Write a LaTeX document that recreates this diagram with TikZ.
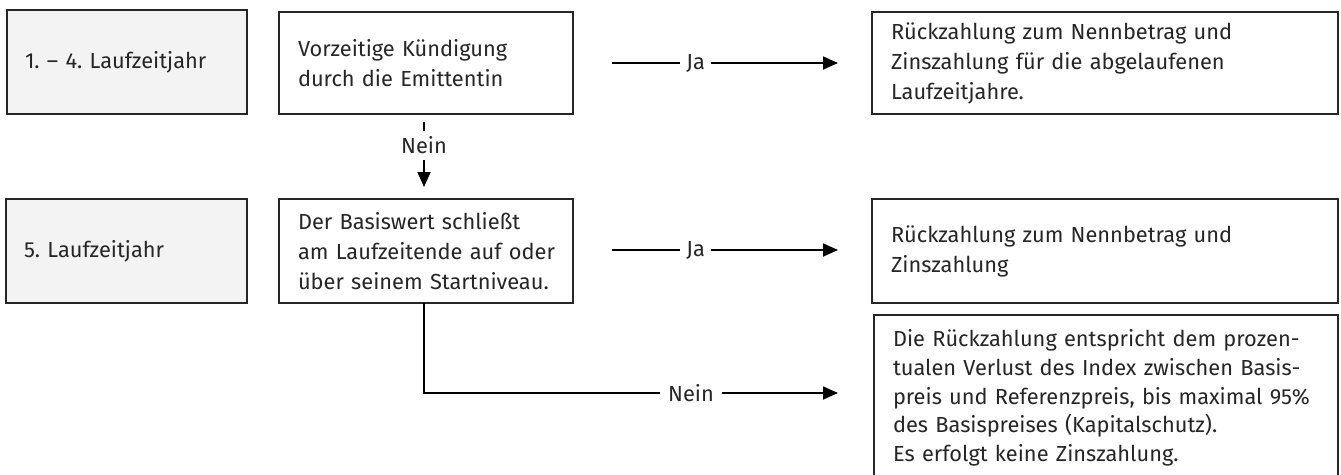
\documentclass[tikz,border=0pt]{standalone}
\usepackage{fontspec}
\setmainfont{Fira Sans}
\usetikzlibrary{arrows.meta}
\definecolor{boxgray}{HTML}{F3F3F3}
\definecolor{txt}{HTML}{262626}
\frenchspacing
\begin{document}
\begin{tikzpicture}[x=1pt,y=-1pt,
  every node/.style={text=txt,font=\fontsize{21.8}{30}\selectfont},
  box/.style={draw=black!85,line width=1.2pt,anchor=north west,align=left,inner ysep=0pt,outer sep=0pt},
  yearbox/.style={box,fill=boxgray},
  conn/.style={line width=1.8pt,-{Triangle[length=15pt,width=13pt]}},
  lbl/.style={fill=white,inner xsep=6pt,inner ysep=2pt}
]
\clip (0,0) rectangle (1341,474);
\fill[white] (0,0) rectangle (1341,474);

% row 1
\node[yearbox,minimum width=240pt,minimum height=104pt,text width=204pt,inner xsep=18pt] (y1) at (7,10) {\mbox{1. – 4. Laufzeitjahr}};
\node[box,minimum width=294pt,minimum height=102pt,text width=256pt,inner xsep=19pt] (q1) at (279,12) {\mbox{Vorzeitige Kündigung}\\\mbox{durch die Emittentin}};
\node[box,minimum width=466pt,minimum height=102pt,text width=428pt,inner xsep=19pt] (r1) at (872,12) {\mbox{Rückzahlung zum Nennbetrag und}\\\mbox{Zinszahlung für die abgelaufenen}\\\mbox{Laufzeitjahre.}};

% row 2
\node[yearbox,minimum width=241pt,minimum height=104pt,text width=205pt,inner xsep=18pt] (y2) at (6,199) {\mbox{5. Laufzeitjahr}};
\node[box,minimum width=294pt,minimum height=104pt,text width=256pt,inner xsep=19pt] (q2) at (279,199) {\mbox{Der Basiswert schließt}\\\mbox{am Laufzeitende auf oder}\\\mbox{über seinem Startniveau.}};
\node[box,minimum width=466pt,minimum height=104pt,text width=428pt,inner xsep=19pt] (r2) at (872,199) {\mbox{Rückzahlung zum Nennbetrag und}\\\mbox{Zinszahlung}};

% row 3
\node[box,minimum width=464pt,minimum height=166pt,text width=426pt,inner xsep=19pt,
  font=\fontsize{21.8}{28.6}\selectfont] (r3) at (874,315) {\mbox{Die Rückzahlung entspricht dem prozen-}\\\mbox{tualen Verlust des Index zwischen Basis-}\\\mbox{preis und Referenzpreis, bis maximal 95\%}\\\mbox{des Basispreises (Kapitalschutz).}\\\mbox{Es erfolgt keine Zinszahlung.}};

% connectors
\coordinate (j1s) at (612,63);
\coordinate (j1e) at (838,63);
\draw[conn] (j1s) -- node[lbl,pos=0.37] {Ja} (j1e);

\coordinate (j2s) at (612,250);
\coordinate (j2e) at (838,250);
\draw[conn] (j2s) -- node[lbl,pos=0.37] {Ja} (j2e);

\coordinate (n1s) at (424,122);
\coordinate (n1e) at (424,187);
\draw[conn] (n1s) -- node[lbl,pos=0.36,inner ysep=6pt] {Nein} (n1e);

\coordinate (n2s) at (q2.south -| 424,0);
\coordinate (n2c) at (424,393);
\coordinate (n2e) at (838,393);
\draw[conn] (n2s) -- (n2c) -- node[lbl,pos=0.645,inner xsep=8pt] {Nein} (n2e);
\end{tikzpicture}
\end{document}
